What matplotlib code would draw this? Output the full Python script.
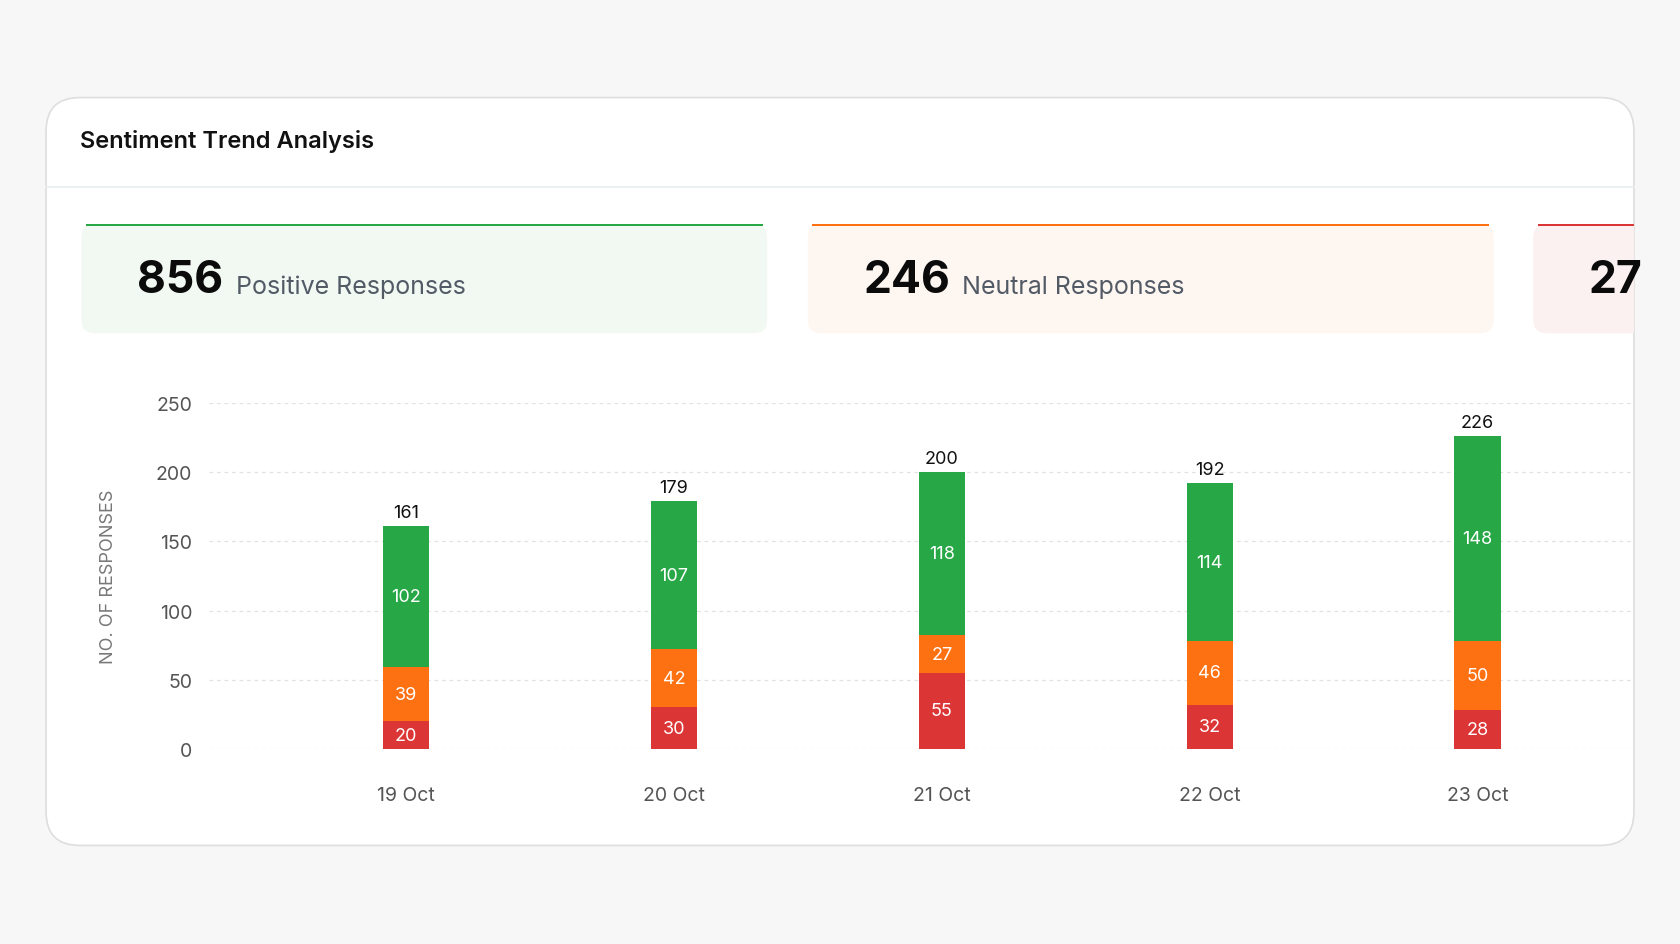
import matplotlib.pyplot as plt
from matplotlib.patches import FancyBboxPatch, Rectangle

plt.rcParams['font.family'] = ['Inter', 'DejaVu Sans']

dates = ['19 Oct', '20 Oct', '21 Oct', '22 Oct', '23 Oct']
negative = [20, 30, 55, 32, 28]
neutral = [39, 42, 27, 46, 50]
positive = [102, 107, 118, 114, 148]
totals = [161, 179, 200, 192, 226]
yticks = [0, 50, 100, 150, 200, 250]

kpi_values = ['856', '246', '27']
kpi_labels = ['Positive Responses', 'Neutral Responses', 'Negative Responses']

GREEN, ORANGE, RED = '#27a745', '#fd7112', '#dc3535'

W, H = 1568, 882
fig = plt.figure(figsize=(16.8, 9.45), dpi=100)
fig.patch.set_facecolor('#f7f7f7')

def fx(x): return x / W
def fy(y): return 1 - y / H

# main card
card = FancyBboxPatch((fx(43), fy(790)), fx(1525 - 43), (790 - 92) / H,
                      boxstyle='round,pad=0,rounding_size=0.02', transform=fig.transFigure,
                      facecolor='white', edgecolor='#dedede', linewidth=1.2, zorder=1,
                      mutation_aspect=W / H)
fig.patches.append(card)
fig.text(fx(75), fy(132), 'Sentiment Trend Analysis', fontsize=17, fontweight='semibold',
         color='#111111', va='center', zorder=3)
fig.lines.append(plt.Line2D([fx(43), fx(1525)], [fy(175), fy(175)], transform=fig.transFigure,
                            color='#e8edf1', linewidth=1.2, zorder=2))

# KPI cards
kpi_x = [76, 754, 1431]
kpi_fill = ['#f2f8f2', '#fef6f1', '#fcf1f1']
kpi_edge = [GREEN, ORANGE, RED]
for x0, val, lab, fc, ec in zip(kpi_x, kpi_values, kpi_labels, kpi_fill, kpi_edge):
    box = FancyBboxPatch((fx(x0), fy(312)), fx(640), (312 - 210) / H,
                         boxstyle='round,pad=0,rounding_size=0.008', transform=fig.transFigure,
                         facecolor=fc, edgecolor='none', zorder=2, mutation_aspect=W / H)
    fig.patches.append(box)
    top = Rectangle((fx(x0 + 4), fy(212)), fx(632), 2 / H, transform=fig.transFigure,
                    facecolor=ec, edgecolor='none', zorder=3)
    fig.patches.append(top)
    t1 = fig.text(fx(x0 + 52), fy(262), val, fontsize=32, fontweight='bold', color='#0b0b0b',
                  va='center', zorder=4)
    t2 = fig.text(fx(x0 + 144), fy(268), lab, fontsize=18, color='#525a66', va='center', zorder=4)
    for a in (box, top, t1, t2):
        a.set_clip_path(card)

# chart
ax = fig.add_axes([fx(195), fy(700), fx(1525 - 195), (700 - 377) / H])
ax.set_zorder(5)
ax.patch.set_alpha(0)
x = list(range(len(dates)))
bw = 0.172
bot2 = [a + b for a, b in zip(negative, neutral)]
ax.bar(x, negative, bw, color=RED, zorder=3)
ax.bar(x, neutral, bw, bottom=negative, color=ORANGE, zorder=3)
ax.bar(x, positive, bw, bottom=bot2, color=GREEN, zorder=3)
for i in x:
    ax.text(i, negative[i] / 2, str(negative[i]), ha='center', va='center', color='white', fontsize=13, zorder=4)
    ax.text(i, negative[i] + neutral[i] / 2, str(neutral[i]), ha='center', va='center', color='white', fontsize=13, zorder=4)
    ax.text(i, bot2[i] + positive[i] / 2, str(positive[i]), ha='center', va='center', color='white', fontsize=13, zorder=4)
    ax.text(i, totals[i] + 4, str(totals[i]), ha='center', va='bottom', color='#111111', fontsize=13, zorder=4)

ax.set_xlim(-0.736, 4.584)
ax.set_ylim(0, 250)
ax.set_yticks(yticks)
ax.set_xticks(x)
ax.set_xticklabels(dates)
ax.tick_params(length=0, labelsize=14, colors='#555555')
ax.tick_params(axis='x', pad=27)
ax.tick_params(axis='y', pad=12)
ax.grid(axis='y', color='#e2e2e2', linestyle=(0, (3, 3)), linewidth=0.9, zorder=0)
for s in ax.spines.values():
    s.set_visible(False)
ax.set_ylabel('NO. OF RESPONSES', fontsize=13, color='#777777', labelpad=28)

plt.savefig('out.png', dpi=100, facecolor=fig.get_facecolor())
